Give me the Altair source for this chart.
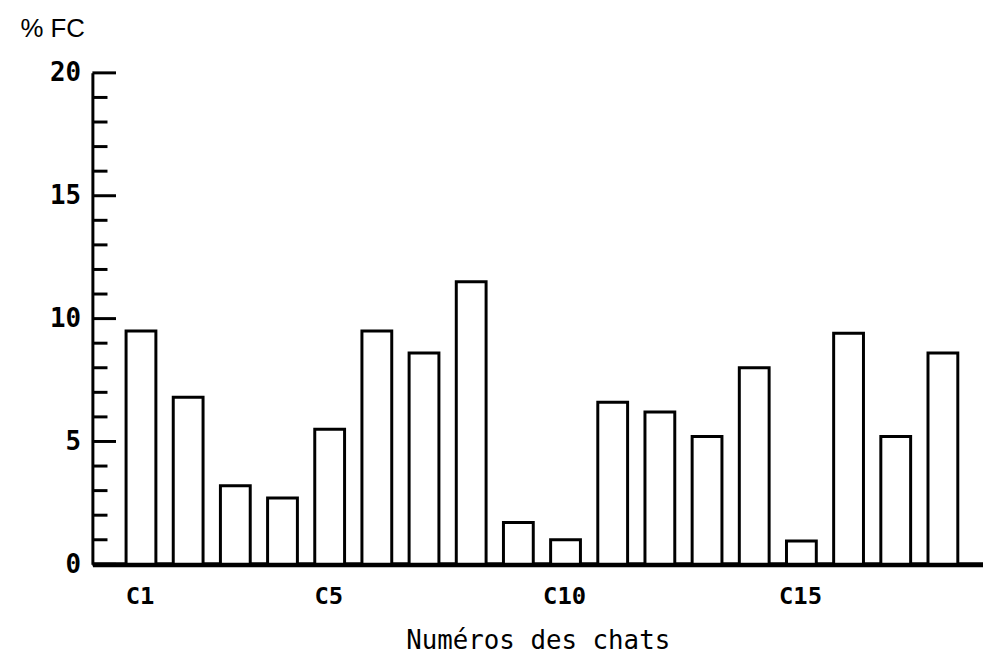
import altair as alt
import pandas as pd

cats = list(range(1, 19))
values = [9.5, 6.8, 3.2, 2.7, 5.5, 9.5, 8.6, 11.5, 1.7, 1.0, 6.6, 6.2, 5.2, 8.0, 0.95, 9.4, 5.2, 8.6]
x_labels = [1, 5, 10, 15]
major_ticks = [0, 5, 10, 15, 20]
minor_ticks = [v for v in range(0, 21) if v % 5 != 0]

half = 0.316
bars_df = pd.DataFrame({"cat": cats, "val": values})
bars_df["x0"] = bars_df["cat"] - half + 0.03
bars_df["x1"] = bars_df["cat"] + half + 0.03
bars_df["base"] = 0

ticks_df = pd.DataFrame(
    {"y": major_ticks + minor_ticks,
     "x0": [0.0] * (len(major_ticks) + len(minor_ticks)),
     "x1": [0.5] * len(major_ticks) + [0.32] * len(minor_ticks)}
)

xscale = alt.Scale(domain=[0, 18.88], nice=False, zero=False)
yscale = alt.Scale(domain=[0, 20], nice=False)

font = "DejaVu Sans Mono"

xaxis = alt.Axis(values=x_labels, labelExpr="'C' + datum.value", ticks=False, grid=False,
                 domainWidth=5, domainColor="black", labelFont=font, labelFontSize=24,
                 labelFontWeight="bold", labelColor="black", labelPadding=20,
                 title="Numéros des chats",
                 titleFont=font, titleFontSize=26, titleFontWeight="normal",
                 titleColor="black", titlePadding=20)
yaxis = alt.Axis(values=major_ticks, ticks=False, grid=False, domainWidth=3,
                 domainColor="black", labelFont=font, labelFontSize=26,
                 labelFontWeight="bold", labelColor="black", labelPadding=12,
                 title="% FC",
                 titleAngle=0, titleAlign="left", titleBaseline="middle",
                 titleX=-73, titleY=-45, titleFont="Liberation Sans",
                 titleFontSize=26, titleFontWeight="normal", titleColor="black")

bars = alt.Chart(bars_df).mark_bar(fill="white", stroke="black", strokeWidth=3).encode(
    x=alt.X("x0:Q", scale=xscale, axis=xaxis),
    x2="x1:Q",
    y=alt.Y("val:Q", scale=yscale, axis=yaxis),
    y2="base:Q",
)

ticks = alt.Chart(ticks_df).mark_rule(color="black", strokeWidth=3).encode(
    x=alt.X("x0:Q", scale=xscale, axis=xaxis),
    x2="x1:Q",
    y=alt.Y("y:Q", scale=yscale, axis=yaxis),
)

chart = alt.layer(bars, ticks).properties(
    width=897, height=495,
    background="white",
    autosize=alt.AutoSizeParams(type="none"),
    padding={"left": 85, "top": 63, "right": 0, "bottom": 92},
).configure_view(stroke=None).configure_axis(grid=False)

chart.save("out.html", embed_options={"renderer": "svg", "actions": False})
